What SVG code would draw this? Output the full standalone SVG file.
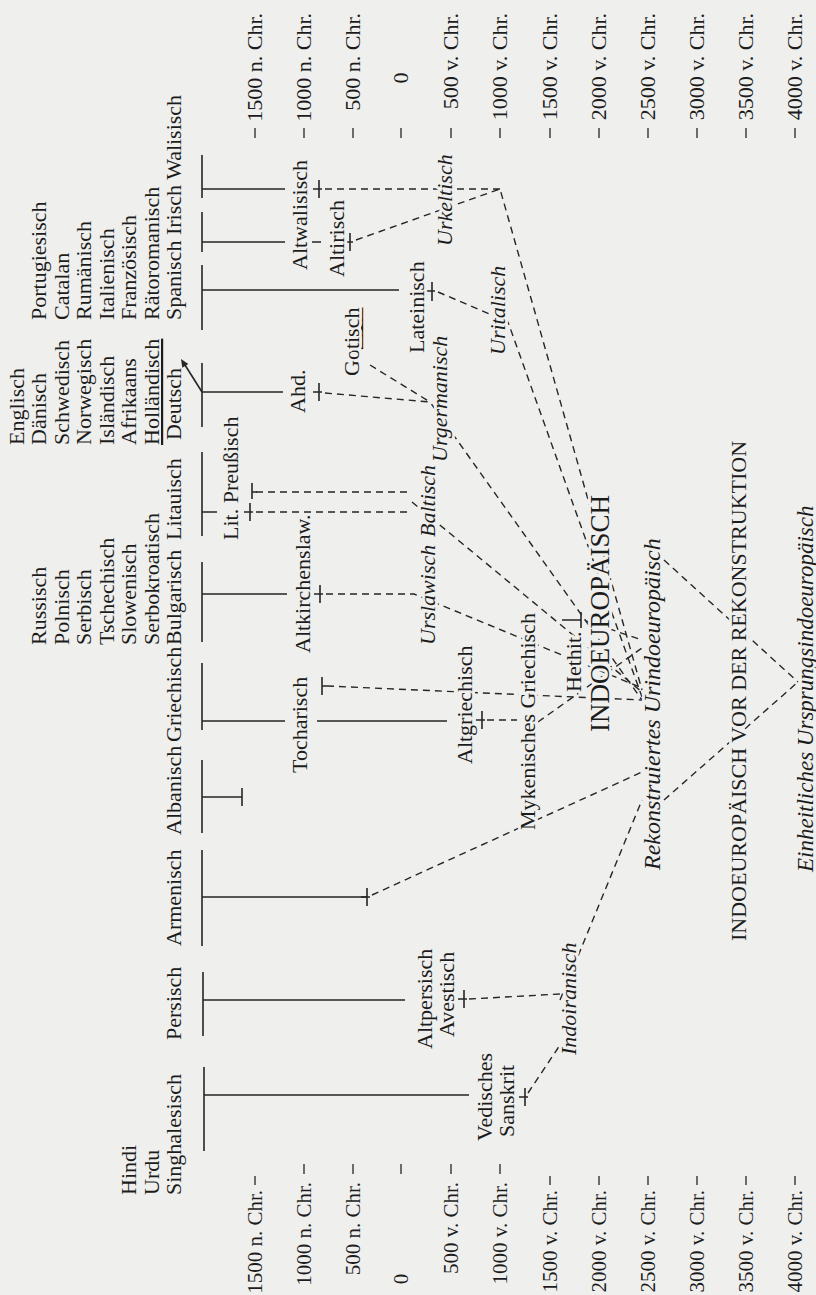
<svg xmlns="http://www.w3.org/2000/svg" width="816" height="1295" viewBox="0 0 816 1295">
<style>
.t{font-family:"Liberation Serif","Times New Roman",serif;font-size:22px;fill:#1c1c1c}
.sc{font-size:21px}
.i{font-style:italic}
.h{stroke:#efefed;stroke-width:6;paint-order:stroke;stroke-linejoin:round}
.s{stroke:#262626;stroke-width:1.6;fill:none}
.d{stroke:#262626;stroke-width:1.4;fill:none;stroke-dasharray:7 5}
.k{stroke:#262626;stroke-width:1.3;fill:none}
</style>
<rect width="816" height="1295" fill="#efefed"/>

<g id="scale-right">
<path class="k" d="M255 128V138M304 128V138M353 128V138M401 128V138M451 128V138M500 128V138M550 128V138M599 128V138M648 128V138M697 128V138M746 128V138M795 128V138"/>
<text class="t" text-anchor="end" transform="translate(262,13) rotate(-90)">1500 n. Chr.</text>
<text class="t" text-anchor="end" transform="translate(311,13) rotate(-90)">1000 n. Chr.</text>
<text class="t" text-anchor="end" transform="translate(360,13) rotate(-90)">500 n. Chr.</text>
<text class="t" text-anchor="middle" transform="translate(408,78) rotate(-90)">0</text>
<text class="t" text-anchor="end" transform="translate(458,13) rotate(-90)">500 v. Chr.</text>
<text class="t" text-anchor="end" transform="translate(507,13) rotate(-90)">1000 v. Chr.</text>
<text class="t" text-anchor="end" transform="translate(557,13) rotate(-90)">1500 v. Chr.</text>
<text class="t" text-anchor="end" transform="translate(606,13) rotate(-90)">2000 v. Chr.</text>
<text class="t" text-anchor="end" transform="translate(655,13) rotate(-90)">2500 v. Chr.</text>
<text class="t" text-anchor="end" transform="translate(704,13) rotate(-90)">3000 v. Chr.</text>
<text class="t" text-anchor="end" transform="translate(753,13) rotate(-90)">3500 v. Chr.</text>
<text class="t" text-anchor="end" transform="translate(802,13) rotate(-90)">4000 v. Chr.</text>
</g>

<g id="scale-left">
<path class="k" d="M255 1176V1185M304 1164V1174M353 1164V1174M401 1164V1174M451 1164V1174M500 1164V1174M550 1176V1185M599 1176V1185M648 1176V1185M697 1176V1185M746 1176V1185M795 1176V1185"/>
<text class="t sc" text-anchor="end" transform="translate(262,1190) rotate(-90)">1500 n. Chr.</text>
<text class="t sc" text-anchor="end" transform="translate(311,1182) rotate(-90)">1000 n. Chr.</text>
<text class="t sc" text-anchor="end" transform="translate(360,1182) rotate(-90)">500 n. Chr.</text>
<text class="t sc" text-anchor="middle" transform="translate(408,1279) rotate(-90)">0</text>
<text class="t sc" text-anchor="end" transform="translate(458,1182) rotate(-90)">500 v. Chr.</text>
<text class="t sc" text-anchor="end" transform="translate(507,1182) rotate(-90)">1000 v. Chr.</text>
<text class="t sc" text-anchor="end" transform="translate(557,1190) rotate(-90)">1500 v. Chr.</text>
<text class="t sc" text-anchor="end" transform="translate(606,1190) rotate(-90)">2000 v. Chr.</text>
<text class="t sc" text-anchor="end" transform="translate(655,1190) rotate(-90)">2500 v. Chr.</text>
<text class="t sc" text-anchor="end" transform="translate(704,1190) rotate(-90)">3000 v. Chr.</text>
<text class="t sc" text-anchor="end" transform="translate(753,1190) rotate(-90)">3500 v. Chr.</text>
<text class="t sc" text-anchor="end" transform="translate(802,1190) rotate(-90)">4000 v. Chr.</text>
</g>

<g id="connectors">
<path class="d" d="M325 189H500M356 240L500 189L642 690"/>
<path class="d" d="M438 292L508 322L642 697"/>
<path class="d" d="M325 393L430 402L642 700M370 365L430 402"/>
<path class="d" d="M256 492H412M256 512H412M412 502L642 692"/>
<path class="d" d="M326 594H414L642 688"/>
<path class="d" d="M327 686L642 700"/>
<path class="d" d="M487 720H517M538 722L642 648"/>
<path class="d" d="M586 621L642 640"/>
<path class="d" d="M372 895L642 772"/>
<path class="d" d="M528 1093L560 1045M469 999L560 994M560 1000L642 800"/>
<path class="d" d="M664 560L798 682M664 800L798 682"/>
</g>

<g id="trees">
<path class="s" d="M202 155V198M202 189H285M202 212V252M202 242H285M312 242H321M202 265V330M202 290H399M202 363V427M202 392H283"/>
<path class="s" d="M202 392L185 365"/>
<path d="M181 359L188.3 363.9L182.3 367.7Z" fill="#262626"/>
<path class="s" d="M202 452V536M202 512H217M202 562V642M202 594H287M202 663V730M202 721H285M317 721H447M202 760V833M202 797H242M242 788V806"/>
<path class="s" d="M202 850V946M202 897H367M203 972V1036M203 1000H405M204 1067V1151M204 1095H469M562 620H581"/>
<path class="s" d="M313 189H322M319 180V198M344 242H353M350 233V251M313 392H322M319 383V401M426 291H435M432 282V301M244 512H253M250 503V521M252 483V499M252 492H257M314 594H323M320 585V603M322 677V695M322 686H327M476 720H485M482 711V729M361 897H370M367 888V906M458 999H467M464 990V1008M519 1097H528M525 1088V1106M581 612V628"/>
</g>

<g id="celtic-labels">
<text class="t h" transform="translate(307,270) rotate(-90)">Altwalisisch</text>
<text class="t h" transform="translate(344,277) rotate(-90)">Altirisch</text>
<text class="t i h" transform="translate(452,246) rotate(-90)">Urkeltisch</text>
</g>
<g id="romance-labels">
<text class="t" transform="translate(46,320) rotate(-90)">Portugiesisch</text>
<text class="t" transform="translate(69,320) rotate(-90)">Catalan</text>
<text class="t" transform="translate(91,320) rotate(-90)">Rumänisch</text>
<text class="t" transform="translate(114,320) rotate(-90)">Italienisch</text>
<text class="t" transform="translate(136,320) rotate(-90)">Französisch</text>
<text class="t" transform="translate(159,320) rotate(-90)">Rätoromanisch</text>
<text class="t" transform="translate(181,320) rotate(-90)">Spanisch Irisch Walisisch</text>
<text class="t h" transform="translate(424,353) rotate(-90)">Lateinisch</text>
<text class="t i h" transform="translate(505,355) rotate(-90)">Uritalisch</text>
</g>
<g id="germanic-labels">
<text class="t" transform="translate(24,445) rotate(-90)">Englisch</text>
<text class="t" transform="translate(46,445) rotate(-90)">Dänisch</text>
<text class="t" transform="translate(69,445) rotate(-90)">Schwedisch</text>
<text class="t" transform="translate(91,445) rotate(-90)">Norwegisch</text>
<text class="t" transform="translate(114,445) rotate(-90)">Isländisch</text>
<text class="t" transform="translate(136,445) rotate(-90)">Afrikaans</text>
<text class="t" text-decoration="underline" transform="translate(159,445) rotate(-90)">Holländisch</text>
<text class="t" transform="translate(181,440) rotate(-90)">Deutsch</text>
<text class="t h" transform="translate(305,413) rotate(-90)">Ahd.</text>
<text class="t h" transform="translate(359,376) rotate(-90)">Go<tspan text-decoration="underline">tisch</tspan></text>
<text class="t i h" transform="translate(447,462) rotate(-90)">Urgermanisch</text>
</g>
<g id="baltic-labels">
<text class="t" transform="translate(181,540) rotate(-90)">Litauisch</text>
<text class="t h" transform="translate(238,540) rotate(-90)">Lit. Preußisch</text>
<text class="t i h" transform="translate(435,537) rotate(-90)">Baltisch</text>
</g>
<g id="slavic-labels">
<text class="t" transform="translate(46,645) rotate(-90)">Russisch</text>
<text class="t" transform="translate(69,645) rotate(-90)">Polnisch</text>
<text class="t" transform="translate(91,645) rotate(-90)">Serbisch</text>
<text class="t" transform="translate(114,645) rotate(-90)">Tschechisch</text>
<text class="t" transform="translate(136,645) rotate(-90)">Slowenisch</text>
<text class="t" transform="translate(159,645) rotate(-90)">Serbokroatisch</text>
<text class="t" transform="translate(181,645) rotate(-90)">Bulgarisch</text>
<text class="t h" transform="translate(310,653) rotate(-90)">Altkirchenslaw.</text>
<text class="t i h" transform="translate(435,645) rotate(-90)">Urslawisch</text>
</g>
<g id="greek-labels">
<text class="t" transform="translate(181,742) rotate(-90)">Griechisch</text>
<text class="t h" transform="translate(307,773) rotate(-90)">Tocharisch</text>
<text class="t h" transform="translate(472,764) rotate(-90)">Altgriechisch</text>
<text class="t h" transform="translate(535,830) rotate(-90)">Mykenisches Griechisch</text>
<text class="t h" transform="translate(581,692) rotate(-90)">Hethit.</text>
</g>
<g id="albanian-armenian-labels">
<text class="t" transform="translate(181,835) rotate(-90)">Albanisch</text>
<text class="t" transform="translate(181,946) rotate(-90)">Armenisch</text>
</g>
<g id="indoiranian-labels">
<text class="t" transform="translate(181,1040) rotate(-90)">Persisch</text>
<text class="t" transform="translate(136,1195) rotate(-90)">Hindi</text>
<text class="t" transform="translate(159,1195) rotate(-90)">Urdu</text>
<text class="t" transform="translate(181,1195) rotate(-90)">Singhalesisch</text>
<text class="t h" transform="translate(432,1049) rotate(-90)">Altpersisch</text>
<text class="t h" transform="translate(454,1037) rotate(-90)">Avestisch</text>
<text class="t h" transform="translate(492,1141) rotate(-90)">Vedisches</text>
<text class="t h" transform="translate(514,1137) rotate(-90)">Sanskrit</text>
<text class="t i h" transform="translate(576,1055) rotate(-90)">Indoiranisch</text>
</g>
<g id="pie-labels">
<text class="t h" style="font-size:27px" transform="translate(609,732) rotate(-90)">INDOEUROPÄISCH</text>
<text class="t i h" style="font-size:24px" transform="translate(660,870) rotate(-90)">Rekonstruiertes Urindoeuropäisch</text>
<text class="t h" transform="translate(746,941) rotate(-90)">INDOEUROPÄISCH VOR DER REKONSTRUKTION</text>
<text class="t i h" style="font-size:23px" transform="translate(813,872) rotate(-90)">Einheitliches Ursprungsindoeuropäisch</text>
</g>
</svg>
